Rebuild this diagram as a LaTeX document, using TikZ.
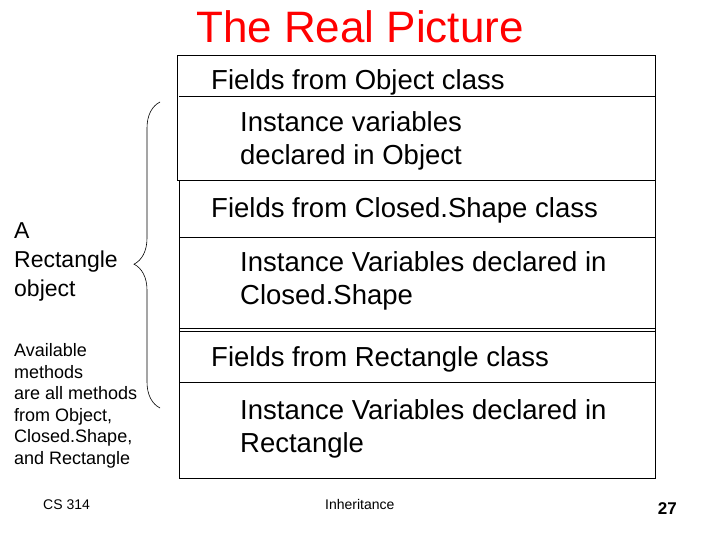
\documentclass[tikz,border=0pt]{standalone}
\usepackage{fontspec}
\setmainfont{Liberation Sans}
\usetikzlibrary{decorations.pathreplacing}
\begin{document}
\begin{tikzpicture}[x=1pt,y=-1pt,
  body/.style={anchor=base west,font=\fontsize{27.5}{33}\selectfont,align=left,inner sep=0},
  lbl/.style={anchor=base west,align=left,inner sep=0},
  ln/.style={line width=0.8pt}]
\useasboundingbox (0,0) rectangle (720,540);
\node[anchor=base,text=red,font=\fontsize{44}{48}\selectfont,inner sep=0] (title) at (360,43) {The Real Picture};
\draw[ln] (177,55) rectangle (655,180);
\draw[ln] (179,180) rectangle (655,478);
\draw[ln] (179,96) -- (655,96);
\draw[ln] (179,237) -- (655,237);
\draw[ln] (179,328) -- (655,328);
\draw[ln] (179,331) -- (655,331);
\draw[ln] (179,382) -- (655,382);
\node[body] (f1) at (211,90) {Fields from Object class};
\node[body] (i1) at (240,165) {Instance variables\\declared in Object};
\node[body] (f2) at (211,218) {Fields from Closed.Shape class};
\node[body] (i2) at (240,304) {Instance Variables declared in\\Closed.Shape};
\node[body] (f3) at (211,366) {Fields from Rectangle class};
\node[body] (i3) at (240,452) {Instance Variables declared in\\Rectangle};
\coordinate (bt) at (160,102);
\coordinate (bb) at (160,408);
\draw[line width=0.6pt,decorate,decoration={brace,amplitude=26pt,aspect=0.47}] (bb) -- (bt);
\node[lbl,font=\fontsize{23}{29}\selectfont] (obj) at (14,296) {A\\Rectangle\\object};
\node[lbl,font=\fontsize{18}{21.5}\selectfont] (meth) at (14,464) {Available\\methods\\are all methods\\from Object,\\Closed.Shape,\\and Rectangle};
\node[anchor=base west,font=\fontsize{14}{16}\selectfont,inner sep=0] (cs) at (43,509) {CS 314};
\node[anchor=base west,font=\fontsize{14}{16}\selectfont,inner sep=0] (inh) at (325,509) {Inheritance};
\node[anchor=base east,font=\bfseries\fontsize{17}{19}\selectfont,inner sep=0] (pg) at (677,514) {27};
\end{tikzpicture}
\end{document}
